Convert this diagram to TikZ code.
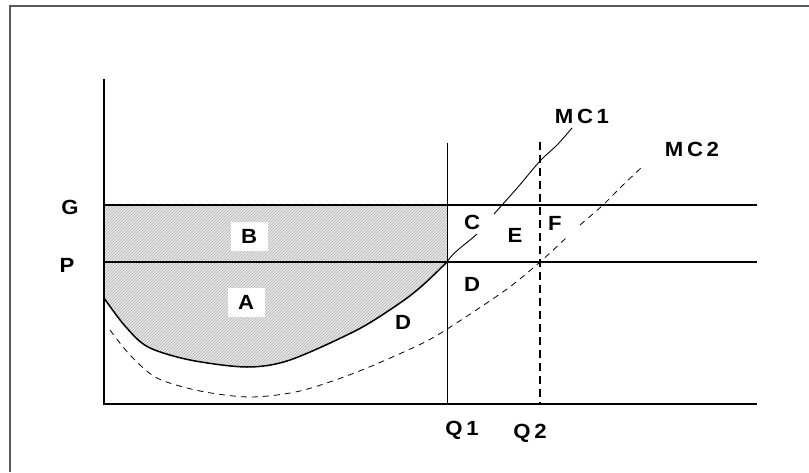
\documentclass[tikz,border=0pt]{standalone}
\usepackage{fontspec}
\setmainfont{Liberation Sans}
\newfontfamily\lblfont[LetterSpace=18,FakeStretch=1.08]{Liberation Sans Bold}
\usetikzlibrary{patterns}
\begin{document}
\begin{tikzpicture}[x=1pt,y=-1pt,
  lbl/.style={font=\lblfont\fontsize{20.5}{20.5}\selectfont, inner sep=1.5pt},
  wlbl/.style={lbl, fill=white, minimum width=37pt, minimum height=29pt},
  ax/.style={line width=1.3pt, black},
  curvea/.style={line width=1.5pt, black},
  curveb/.style={line width=0.9pt, black},
  mctwo/.style={line width=0.8pt, black, dash pattern=on 6pt off 5pt},
  qtwo/.style={line width=1.5pt, black, dash pattern=on 8pt off 5pt},
  shade/.style={pattern=north east lines, pattern color=gray!60}]
\useasboundingbox (0,0) rectangle (809,472);
% frame
\draw[line width=1.4pt, black!65] (10,472) -- (10,6) -- (809,6);
% shaded region
\fill[gray!18] (104,205) -- (447,205) -- (447,262)
  -- plot[smooth] coordinates {(447,262) (423,285) (400,303) (357,330) (290,360) (247,367) (190,360) (148,347) (125,326) (104,298)} -- cycle;
\path[shade] (104,205) -- (447,205) -- (447,262)
  -- plot[smooth] coordinates {(447,262) (423,285) (400,303) (357,330) (290,360) (247,367) (190,360) (148,347) (125,326) (104,298)} -- cycle;
% coordinates
\coordinate (O) at (104,404);
\coordinate (Ytop) at (104,79);
\coordinate (Xend) at (757,404);
\coordinate (Gl) at (104,205);
\coordinate (Gr) at (757,205);
\coordinate (Pl) at (104,262);
\coordinate (Pr) at (757,262);
\coordinate (Q1t) at (447,143);
\coordinate (Q1b) at (447,404);
\coordinate (Q2t) at (540,142);
\coordinate (Q2b) at (540,404);
\coordinate (K) at (447,262);
% horizontal lines
\draw[ax] (Gl) -- (Gr);
\draw[ax] (Pl) -- (Pr);
% Q lines
\draw[line width=1pt] (Q1t) -- (Q1b);
\draw[qtwo] (Q2t) -- (Q2b);
% axes
\draw[ax] (Ytop) -- (O) -- (Xend);
% MC1 lower part
\draw[curvea] plot[smooth] coordinates {(104,298) (125,326) (148,347) (190,360) (247,367) (290,360) (357,330) (400,303) (423,285) (447,262)};
% MC1 upper part
\draw[curveb] (K) .. controls (453,252) and (466,244) .. (477,234);
\draw[curveb] plot[smooth] coordinates {(494,214) (518,187) (540,161) (557,145) (572,128)};
% MC2
\draw[mctwo] plot[smooth] coordinates {(110,330) (130,355) (157,378) (200,391) (250,397) (300,391) (357,372) (423,343) (458,322) (507,289) (540,262) (567,237)};
\draw[mctwo] plot[smooth] coordinates {(580,225) (603,205) (622,186) (642,167)};
% labels
\node[lbl] (G) at (70,207) {G};
\node[lbl] (P) at (67,265) {P};
\node[wlbl] (B) at (249,236) {B};
\node[wlbl] (A) at (246,302) {A};
\node[lbl] (D1) at (403,322) {D};
\node[lbl] (D2) at (472,284) {D};
\node[lbl] (C) at (472,222) {C};
\node[lbl] (E) at (515,235) {E};
\node[lbl] (F) at (555,223) {F};
\node[lbl] (Q1) at (462,430) {Q1};
\node[lbl] (Q2) at (530,433) {Q2};
\node[lbl] (MC1) at (582,116) {MC1};
\node[lbl] (MC2) at (692,149) {MC2};
\end{tikzpicture}
\end{document}
